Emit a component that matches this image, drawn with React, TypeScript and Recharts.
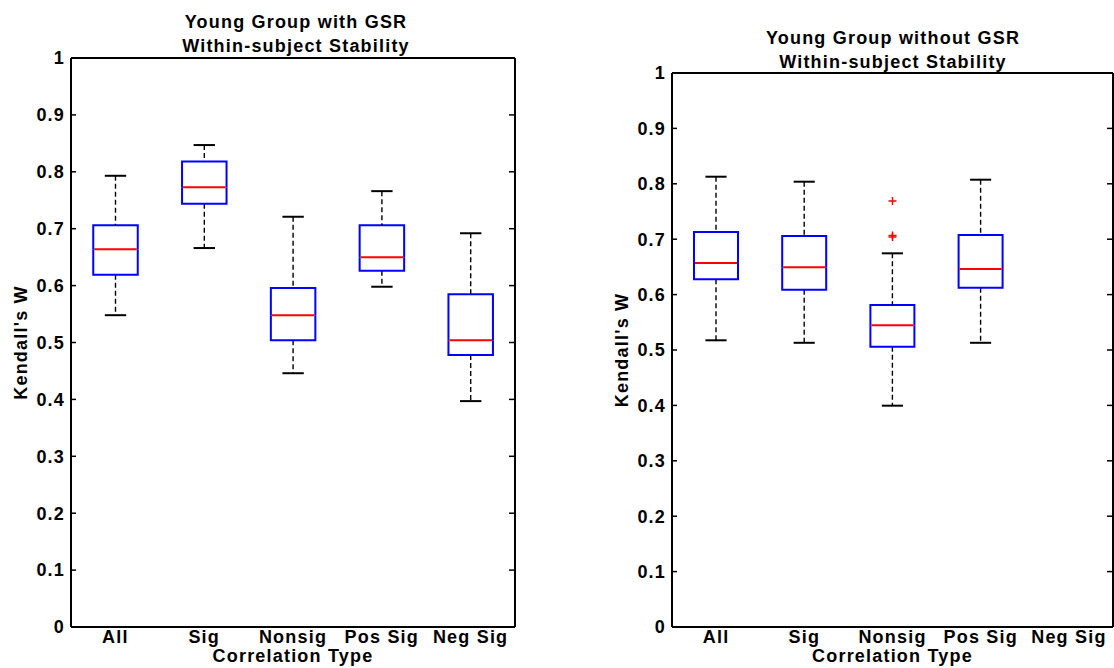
import React from 'react';
import { ComposedChart, Bar, Line, XAxis, YAxis, Label, ReferenceLine } from 'recharts';

const categories = ['All', 'Sig', 'Nonsig', 'Pos Sig', 'Neg Sig'];
const yTicks = [0, 0.1, 0.2, 0.3, 0.4, 0.5, 0.6, 0.7, 0.8, 0.9, 1];

// Young group with GSR
const gsrMin = [0.548, 0.666, 0.446, 0.598, 0.397];
const gsrQ1 = [0.619, 0.744, 0.504, 0.626, 0.478];
const gsrMedian = [0.664, 0.773, 0.548, 0.65, 0.504];
const gsrQ3 = [0.706, 0.818, 0.596, 0.706, 0.585];
const gsrMax = [0.793, 0.847, 0.721, 0.766, 0.692];
const gsrOutlierA: (number | null)[] = [null, null, null, null, null];
const gsrOutlierB: (number | null)[] = [null, null, null, null, null];
const gsrOutlierC: (number | null)[] = [null, null, null, null, null];

// Young group without GSR
const noGsrMin: (number | null)[] = [0.5175, 0.513, 0.3995, 0.513, null];
const noGsrQ1: (number | null)[] = [0.6276, 0.6088, 0.506, 0.6125, null];
const noGsrMedian: (number | null)[] = [0.657, 0.6493, 0.5446, 0.6462, null];
const noGsrQ3: (number | null)[] = [0.713, 0.7058, 0.5812, 0.7076, null];
const noGsrMax: (number | null)[] = [0.8128, 0.8038, 0.6745, 0.8074, null];
const noGsrOutlierA: (number | null)[] = [null, null, 0.769, null, null];
const noGsrOutlierB: (number | null)[] = [null, null, 0.7065, null, null];
const noGsrOutlierC: (number | null)[] = [null, null, 0.704, null, null];

type Num = number | null;

function buildRows(
  min: Num[], q1: Num[], med: Num[], q3: Num[], max: Num[],
  oa: Num[], ob: Num[], oc: Num[]
) {
  return categories.map((cat, i) => {
    const has = min[i] != null;
    return {
      cat,
      base: has ? (min[i] as number) : null,
      lowWhisker: has ? (q1[i] as number) - (min[i] as number) : null,
      lowBox: has ? (med[i] as number) - (q1[i] as number) : null,
      highBox: has ? (q3[i] as number) - (med[i] as number) : null,
      highWhisker: has ? (max[i] as number) - (q3[i] as number) : null,
      oa: oa[i],
      ob: ob[i],
      oc: oc[i],
    };
  });
}

const gsrRows = buildRows(gsrMin, gsrQ1, gsrMedian, gsrQ3, gsrMax, gsrOutlierA, gsrOutlierB, gsrOutlierC);
const noGsrRows = buildRows(noGsrMin, noGsrQ1, noGsrMedian, noGsrQ3, noGsrMax, noGsrOutlierA, noGsrOutlierB, noGsrOutlierC);

const BLUE = '#0000ff';
const RED = '#ff0000';

function valid(p: any) {
  return p && p.payload && p.payload.base != null && isFinite(p.y) && isFinite(p.height);
}

const EmptyShape = () => <g />;

const LowWhiskerShape = (p: any) => {
  if (!valid(p)) return <g />;
  const cx = p.x + p.width / 2;
  const cap = p.width * 0.12;
  const yb = p.y + p.height;
  return (
    <g>
      <line x1={cx} x2={cx} y1={p.y} y2={yb} stroke="#000" strokeWidth={1.4} strokeDasharray="5 3" />
      <line x1={cx - cap} x2={cx + cap} y1={yb} y2={yb} stroke="#000" strokeWidth={2} />
    </g>
  );
};

const HighWhiskerShape = (p: any) => {
  if (!valid(p)) return <g />;
  const cx = p.x + p.width / 2;
  const cap = p.width * 0.12;
  const yt = p.y;
  return (
    <g>
      <line x1={cx} x2={cx} y1={yt} y2={p.y + p.height} stroke="#000" strokeWidth={1.4} strokeDasharray="5 3" />
      <line x1={cx - cap} x2={cx + cap} y1={yt} y2={yt} stroke="#000" strokeWidth={2} />
    </g>
  );
};

const LowBoxShape = (p: any) => {
  if (!valid(p)) return <g />;
  const cx = p.x + p.width / 2;
  const hw = p.width * 0.25;
  const x0 = cx - hw;
  const x1 = cx + hw;
  const yb = p.y + p.height;
  return (
    <path
      d={`M${x0},${p.y} L${x0},${yb} L${x1},${yb} L${x1},${p.y}`}
      fill="none"
      stroke={BLUE}
      strokeWidth={2}
    />
  );
};

const HighBoxShape = (p: any) => {
  if (!valid(p)) return <g />;
  const cx = p.x + p.width / 2;
  const hw = p.width * 0.25;
  const x0 = cx - hw;
  const x1 = cx + hw;
  const yb = p.y + p.height;
  return (
    <g>
      <path
        d={`M${x0},${yb} L${x0},${p.y} L${x1},${p.y} L${x1},${yb}`}
        fill="none"
        stroke={BLUE}
        strokeWidth={2}
      />
      <line x1={x0 + 1} x2={x1 - 1} y1={yb} y2={yb} stroke={RED} strokeWidth={2} />
    </g>
  );
};

const PlusDot = (p: any) => {
  const key = `${p.dataKey}-${p.index}`;
  if (p.value == null || p.cy == null || !isFinite(p.cy)) return <g key={key} />;
  const s = 4;
  return (
    <g key={key}>
      <line x1={p.cx - s} x2={p.cx + s} y1={p.cy} y2={p.cy} stroke={RED} strokeWidth={1.5} />
      <line x1={p.cx} x2={p.cx} y1={p.cy - s} y2={p.cy + s} stroke={RED} strokeWidth={1.5} />
    </g>
  );
};

const fmt = (v: number) => (v === 0 ? '0' : v === 1 ? '1' : v.toFixed(1));

type PanelProps = {
  rows: any[];
  width: number;
  top: number;
  leftAxisWidth: number;
  rightAxisWidth: number;
  labelDx: number;
};

function Panel({ rows, width, top, leftAxisWidth, rightAxisWidth, labelDx }: PanelProps) {
  return (
    <ComposedChart
      width={width}
      height={668}
      data={rows}
      margin={{ top, right: 0, bottom: 1, left: 0 }}
      barCategoryGap={0}
      barGap={0}
    >
      <XAxis
        dataKey="cat"
        type="category"
        xAxisId="bottom"
        orientation="bottom"
        height={40}
        tickLine={false}
        tickSize={0}
        tickMargin={3}
        axisLine={{ stroke: '#000', strokeWidth: 2 }}
        tick={{ fill: '#000', fontSize: 18 }}
        interval={0}
      >
        <Label value="Correlation Type" position="insideBottom" offset={5} />
      </XAxis>
      <YAxis
        yAxisId="left"
        type="number"
        domain={[0, 1]}
        ticks={yTicks}
        allowDataOverflow
        width={leftAxisWidth}
        tickSize={-5}
        tickMargin={11}
        tickFormatter={fmt}
        tickLine={{ stroke: '#000', strokeWidth: 1.5 }}
        axisLine={{ stroke: '#000', strokeWidth: 2 }}
        tick={{ fill: '#000', fontSize: 18 }}
        interval={0}
      >
        <Label value="Kendall's W" angle={-90} position="center" dx={labelDx} />
      </YAxis>
      <YAxis
        yAxisId="right"
        orientation="right"
        type="number"
        domain={[0, 1]}
        ticks={yTicks}
        allowDataOverflow
        width={rightAxisWidth}
        tickSize={-6}
        tickMargin={0}
        tickFormatter={() => ''}
        tickLine={{ stroke: '#000', strokeWidth: 1.5 }}
        axisLine={{ stroke: '#000', strokeWidth: 2 }}
        interval={0}
      />
      <ReferenceLine y={1} xAxisId="bottom" yAxisId="left" stroke="#000" strokeWidth={2} ifOverflow="visible" />
      <Bar dataKey="base" stackId="box" xAxisId="bottom" yAxisId="left" shape={EmptyShape} isAnimationActive={false} />
      <Bar dataKey="lowWhisker" stackId="box" xAxisId="bottom" yAxisId="left" shape={LowWhiskerShape} isAnimationActive={false} />
      <Bar dataKey="lowBox" stackId="box" xAxisId="bottom" yAxisId="left" shape={LowBoxShape} isAnimationActive={false} />
      <Bar dataKey="highBox" stackId="box" xAxisId="bottom" yAxisId="left" shape={HighBoxShape} isAnimationActive={false} />
      <Bar dataKey="highWhisker" stackId="box" xAxisId="bottom" yAxisId="left" shape={HighWhiskerShape} isAnimationActive={false} />
      <Line dataKey="oa" xAxisId="bottom" yAxisId="left" stroke="none" dot={PlusDot} activeDot={false} isAnimationActive={false} />
      <Line dataKey="ob" xAxisId="bottom" yAxisId="left" stroke="none" dot={PlusDot} activeDot={false} isAnimationActive={false} />
      <Line dataKey="oc" xAxisId="bottom" yAxisId="left" stroke="none" dot={PlusDot} activeDot={false} isAnimationActive={false} />
    </ComposedChart>
  );
}

export default function App() {
  return (
    <div className="fig" style={{ position: 'absolute', left: 0, top: 0, width: 1114, height: 668, background: '#fff', overflow: 'hidden' }}>
      <style>{`
        .fig text { font-family: 'Liberation Sans', Arial, Helvetica, sans-serif; font-weight: bold; font-size: 18px; letter-spacing: 1.2px; fill: #000; }
      `}</style>
      <div style={{ position: 'absolute', left: 0, top: 0 }}>
        <Panel rows={gsrRows} width={560} top={58} leftAxisWidth={71} rightAxisWidth={45} labelDx={-15} />
      </div>
      <div style={{ position: 'absolute', left: 560, top: 0 }}>
        <Panel rows={noGsrRows} width={554} top={73} leftAxisWidth={112} rightAxisWidth={1} labelDx={6} />
      </div>
      <svg style={{ position: 'absolute', left: 0, top: 0, pointerEvents: 'none' }} width={1114} height={668}>
        <text x={296} y={28} textAnchor="middle">Young Group with GSR</text>
        <text x={296} y={52} textAnchor="middle">Within-subject Stability</text>
        <text x={893} y={44} textAnchor="middle">Young Group without GSR</text>
        <text x={893} y={68} textAnchor="middle">Within-subject Stability</text>
      </svg>
    </div>
  );
}
